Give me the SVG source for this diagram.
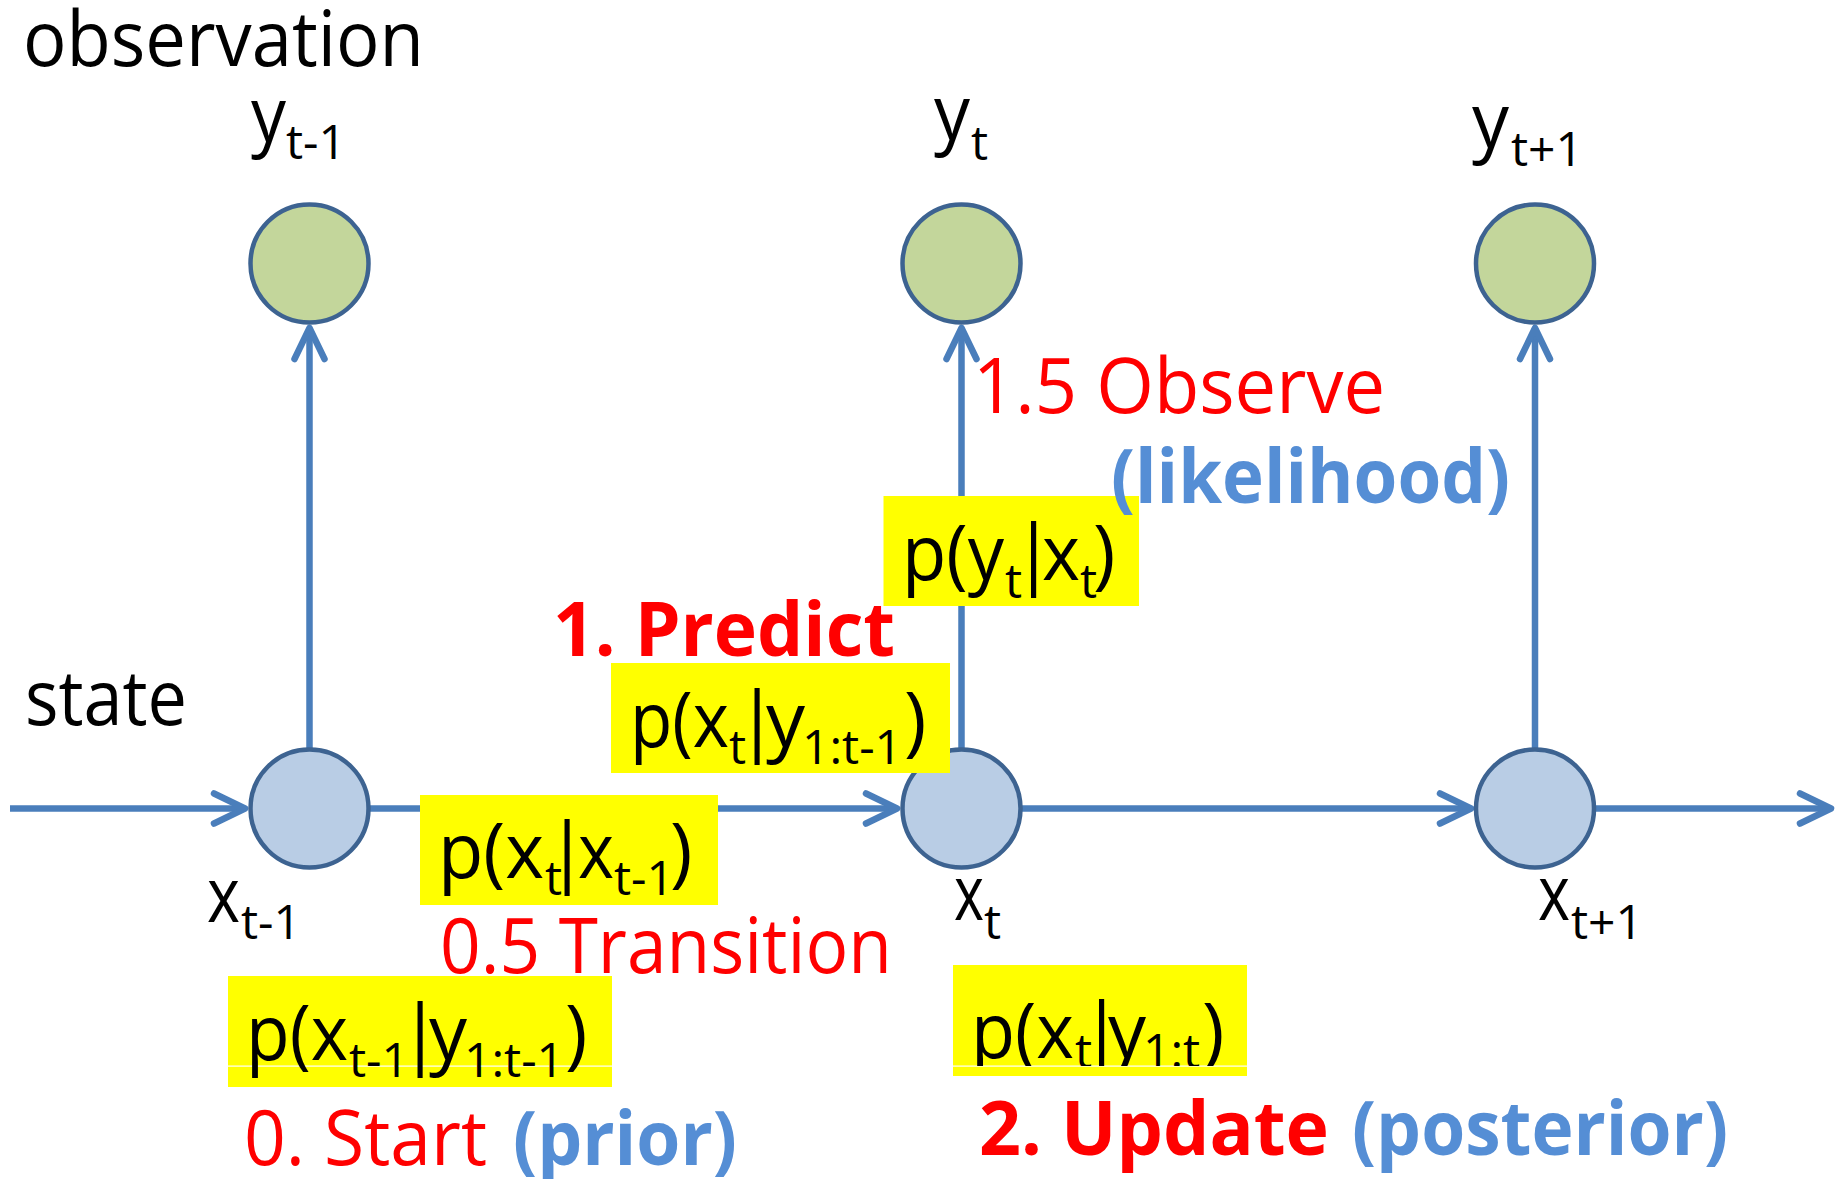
<svg xmlns="http://www.w3.org/2000/svg" width="1842" height="1179" viewBox="0 0 1842 1179">
<style>
.t{font-family:"Open Sans","Noto Sans",sans-serif;font-size:76px;fill:#000}
.s{font-size:48px}
.red{fill:#FF0000}
.blue{fill:#558ED5;font-weight:bold}
.b{font-weight:bold}
.hl{fill:#FFFF00}
.obs{fill:#C3D69B;stroke:#3D6391;stroke-width:4.5}
.st{fill:#B9CDE5;stroke:#3D6391;stroke-width:4.5}
.ln{stroke:#4A7EBB;stroke-width:6.5;fill:none}
</style>
<defs>
<marker id="ah" markerUnits="userSpaceOnUse" orient="auto" refX="0" refY="0" viewBox="-40 -22 46 44" markerWidth="46" markerHeight="44" overflow="visible">
<path d="M-31,-15 L0,0 L-31,15" fill="none" stroke="#4A7EBB" stroke-width="6.5" stroke-linecap="round" stroke-linejoin="round"/>
</marker>
<clipPath id="clipU"><rect x="940" y="960" width="320" height="106"/></clipPath>
</defs>
<rect width="1842" height="1179" fill="#fff"/>

<g id="connectors">
<line class="ln" x1="10" y1="808.5" x2="245" y2="808.5" marker-end="url(#ah)"/>
<line class="ln" x1="368" y1="808.5" x2="897" y2="808.5" marker-end="url(#ah)"/>
<line class="ln" x1="1020" y1="808.5" x2="1471" y2="808.5" marker-end="url(#ah)"/>
<line class="ln" x1="1594" y1="808.5" x2="1831" y2="808.5" marker-end="url(#ah)"/>
<line class="ln" x1="309.5" y1="750" x2="309.5" y2="328" marker-end="url(#ah)"/>
<line class="ln" x1="961.5" y1="750" x2="961.5" y2="328" marker-end="url(#ah)"/>
<line class="ln" x1="1535" y1="750" x2="1535" y2="328" marker-end="url(#ah)"/>
</g>

<g id="headings">
<text class="t" x="23" y="66" textLength="401" lengthAdjust="spacingAndGlyphs">observation</text>
<text class="t" x="25" y="725" textLength="162" lengthAdjust="spacingAndGlyphs">state</text>
</g>

<g id="node-y-t-1">
<circle class="obs" cx="309.5" cy="263.5" r="59"/>
<text class="t" y="142"><tspan x="251" textLength="35" lengthAdjust="spacingAndGlyphs">y</tspan><tspan class="s" x="286" y="159">t-1</tspan></text>
</g>
<g id="node-y-t">
<circle class="obs" cx="961.5" cy="263.5" r="59"/>
<text class="t" y="140"><tspan x="934" textLength="36" lengthAdjust="spacingAndGlyphs">y</tspan><tspan class="s" x="971" y="160">t</tspan></text>
</g>
<g id="node-y-t1">
<circle class="obs" cx="1535" cy="263.5" r="59"/>
<text class="t" y="148"><tspan x="1472" textLength="37" lengthAdjust="spacingAndGlyphs">y</tspan><tspan class="s" x="1511" y="166">t+1</tspan></text>
</g>
<g id="node-x-t-1">
<circle class="st" cx="309.5" cy="808.5" r="59"/>
<text class="t" y="922"><tspan x="207" textLength="33" lengthAdjust="spacingAndGlyphs">x</tspan><tspan class="s" x="241" y="939">t-1</tspan></text>
</g>
<g id="node-x-t">
<circle class="st" cx="961.5" cy="808.5" r="59"/>
<text class="t" y="920"><tspan x="954" textLength="30" lengthAdjust="spacingAndGlyphs">x</tspan><tspan class="s" x="984" y="939">t</tspan></text>
</g>
<g id="node-x-t1">
<circle class="st" cx="1535" cy="808.5" r="59"/>
<text class="t" y="920"><tspan x="1538" textLength="32" lengthAdjust="spacingAndGlyphs">x</tspan><tspan class="s" x="1571" y="939">t+1</tspan></text>
</g>

<g id="label-likelihood">
<rect class="hl" x="883.5" y="496" width="255.5" height="110"/>
<text class="t" y="580"><tspan x="902" textLength="102" lengthAdjust="spacingAndGlyphs">p(y</tspan><tspan class="s" x="1005" y="598">t</tspan><tspan x="1033.5" y="580" text-anchor="middle">|</tspan><tspan x="1042" y="580" textLength="38" lengthAdjust="spacingAndGlyphs">x</tspan><tspan class="s" x="1080" y="598">t</tspan><tspan x="1093" y="580">)</tspan></text>
<text class="t red" x="973" y="413" textLength="412" lengthAdjust="spacingAndGlyphs">1.5 Observe</text>
<text class="t blue" x="1111" y="503" textLength="399" lengthAdjust="spacingAndGlyphs">(likelihood)</text>
</g>

<g id="label-predict">
<text class="t red b" x="553" y="656" textLength="342" lengthAdjust="spacingAndGlyphs">1. Predict</text>
<rect class="hl" x="611" y="663" width="339" height="110"/>
<text class="t" y="747"><tspan x="630" textLength="99" lengthAdjust="spacingAndGlyphs">p(x</tspan><tspan class="s" x="729" y="764">t</tspan><tspan x="757" y="747" text-anchor="middle">|</tspan><tspan x="766" y="747" textLength="39" lengthAdjust="spacingAndGlyphs">y</tspan><tspan class="s" x="802" y="764">1:t-1</tspan><tspan x="904" y="747">)</tspan></text>
</g>

<g id="label-transition">
<rect class="hl" x="420" y="795" width="298" height="110"/>
<text class="t" y="878"><tspan x="438" textLength="106" lengthAdjust="spacingAndGlyphs">p(x</tspan><tspan class="s" x="545" y="895">t</tspan><tspan x="567" y="878" text-anchor="middle">|</tspan><tspan x="578" y="878" textLength="36" lengthAdjust="spacingAndGlyphs">x</tspan><tspan class="s" x="614" y="895">t-1</tspan><tspan x="670" y="878">)</tspan></text>
<text class="t red" x="440" y="973" textLength="452" lengthAdjust="spacingAndGlyphs">0.5 Transition</text>
</g>

<g id="label-prior">
<rect class="hl" x="228" y="976" width="384" height="111"/>
<rect x="228" y="1065.5" width="384" height="1.2" fill="#fff"/>
<text class="t" y="1060"><tspan x="246" textLength="102" lengthAdjust="spacingAndGlyphs">p(x</tspan><tspan class="s" x="349" y="1077">t-1</tspan><tspan x="420" y="1060" text-anchor="middle">|</tspan><tspan x="429" y="1060" textLength="38" lengthAdjust="spacingAndGlyphs">y</tspan><tspan class="s" x="464" y="1077">1:t-1</tspan><tspan x="565" y="1060">)</tspan></text>
<text class="t red" x="244" y="1165" textLength="243" lengthAdjust="spacingAndGlyphs">0. Start</text>
<text class="t blue" x="513" y="1165" textLength="224" lengthAdjust="spacingAndGlyphs">(prior)</text>
</g>

<g id="label-posterior">
<rect class="hl" x="953" y="965" width="294" height="111"/>
<rect x="953" y="1065.5" width="294" height="1.2" fill="#fff"/>
<g clip-path="url(#clipU)">
<text class="t" y="1058"><tspan x="971" textLength="103" lengthAdjust="spacingAndGlyphs">p(x</tspan><tspan class="s" x="1075" y="1068">t</tspan><tspan x="1101.5" y="1058" text-anchor="middle">|</tspan><tspan x="1108" y="1058" textLength="38" lengthAdjust="spacingAndGlyphs">y</tspan><tspan class="s" x="1143" y="1068">1:t</tspan><tspan x="1202" y="1058">)</tspan></text>
</g>
<text class="t red b" x="979" y="1155" textLength="350" lengthAdjust="spacingAndGlyphs">2. Update</text>
<text class="t blue" x="1352" y="1155" textLength="376" lengthAdjust="spacingAndGlyphs">(posterior)</text>
</g>
</svg>
